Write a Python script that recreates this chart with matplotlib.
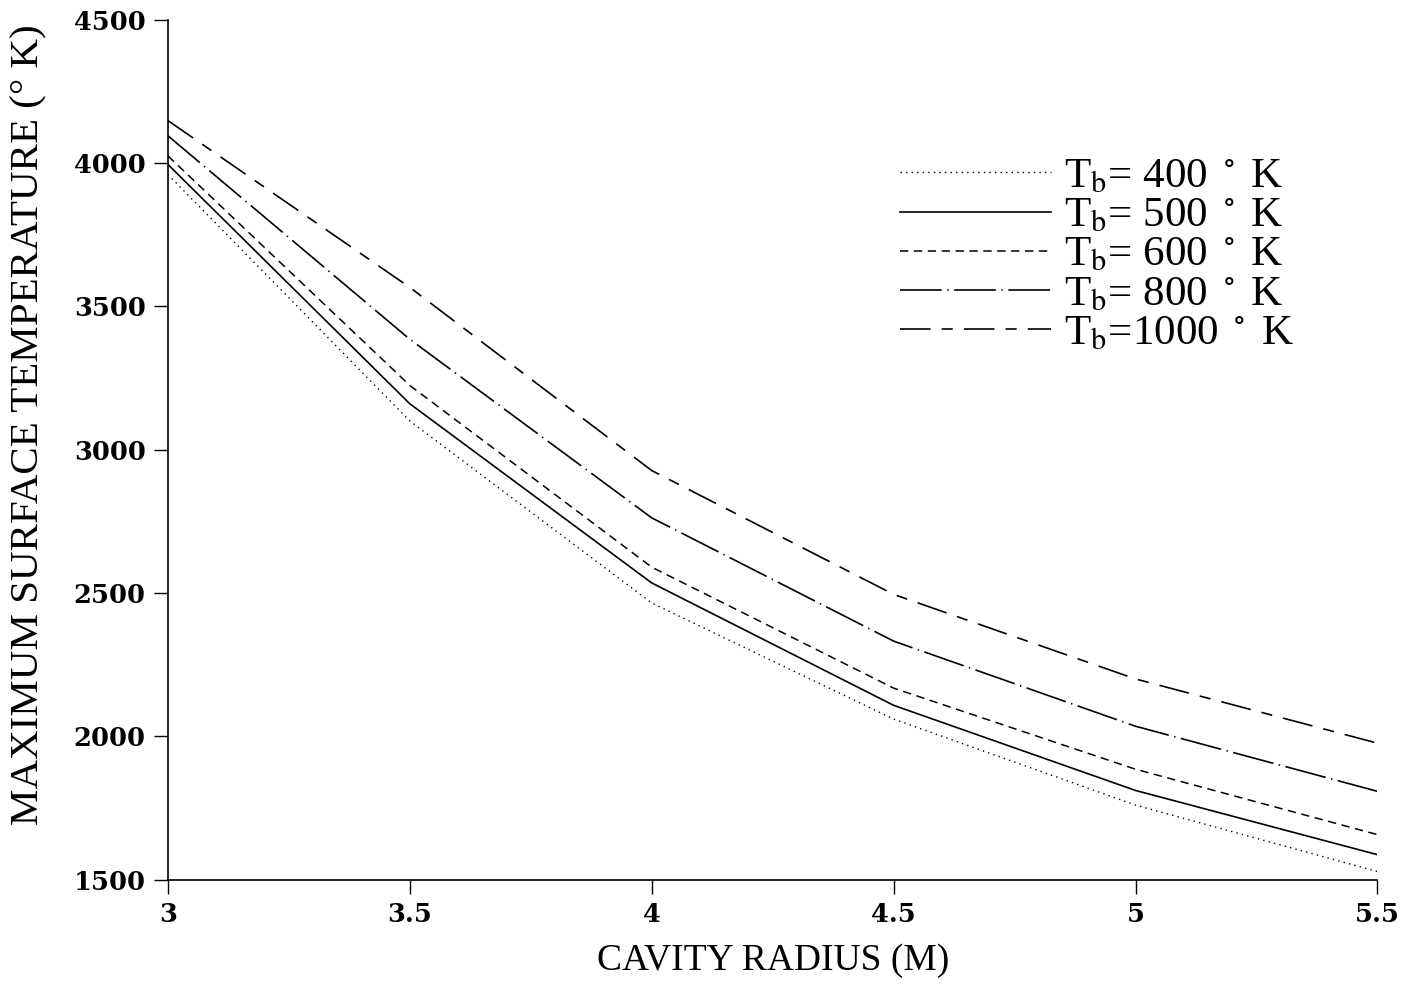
import matplotlib
matplotlib.use("Agg")
import matplotlib.pyplot as plt

radius = [3.0, 3.5, 4.0, 4.5, 5.0, 5.5]
t400 = [3960, 3100, 2465, 2060, 1760, 1528]
t500 = [3995, 3160, 2535, 2108, 1811, 1587]
t600 = [4025, 3224, 2590, 2168, 1885, 1657]
t800 = [4095, 3385, 2762, 2332, 2035, 1808]
t1000 = [4148, 3566, 2927, 2495, 2200, 1976]
labels = [r"T$_{\rm b}$= 400 $^\circ$ K", r"T$_{\rm b}$= 500 $^\circ$ K",
          r"T$_{\rm b}$= 600 $^\circ$ K", r"T$_{\rm b}$= 800 $^\circ$ K",
          r"T$_{\rm b}$=1000 $^\circ$ K"]
xticks = [3, 3.5, 4, 4.5, 5, 5.5]
xticklabels = ["3", "3.5", "4", "4.5", "5", "5.5"]
yticks = [1500, 2000, 2500, 3000, 3500, 4000, 4500]

plt.rcParams['lines.scale_dashes'] = False
plt.rcParams['mathtext.fontset'] = 'stix'
plt.rcParams['font.family'] = ['Liberation Serif', 'DejaVu Serif']

fig = plt.figure(figsize=(14.23, 9.85), dpi=100)
ax = fig.add_axes([0.118, 0.107, 0.850, 0.873])

styles = [(0, (1, 3)), '-', (0, (6, 4)), (0, (30, 4, 1, 4)), (0, (22, 8, 8, 8))]
widths = [1.0, 1.2, 1.1, 1.2, 1.2]
series = [t400, t500, t600, t800, t1000]
for s, ls, lw, lab in zip(series, styles, widths, labels):
    ax.plot(radius, s, color='black', linestyle=ls, linewidth=lw, label=lab)

ax.set_xlim(3, 5.5)
ax.set_ylim(1500, 4500)
ax.set_xticks(xticks)
ax.set_xticklabels(xticklabels)
ax.set_yticks(yticks)
for sp in ['top', 'right']:
    ax.spines[sp].set_visible(False)
for sp in ['left', 'bottom']:
    ax.spines[sp].set_linewidth(1.2)
ax.tick_params(axis='both', direction='out', length=10, width=1.0, pad=6)
for t in ax.get_xticklabels() + ax.get_yticklabels():
    t.set_fontfamily('DejaVu Serif')
    t.set_fontweight('bold')
    t.set_fontsize(18.5)

ax.set_xlabel("CAVITY RADIUS (M)", fontsize=27, labelpad=12)
ax.set_ylabel("MAXIMUM SURFACE TEMPERATURE (° K)", fontsize=29.5)
ax.yaxis.set_label_coords(-0.1, 0.529)

leg = ax.legend(loc='upper left', bbox_to_anchor=(0.5875, 0.865), frameon=False,
                fontsize=31, handlelength=3.5, handletextpad=0.3,
                labelspacing=0.0, borderpad=0.0)

fig.savefig("out.png", dpi=100)
